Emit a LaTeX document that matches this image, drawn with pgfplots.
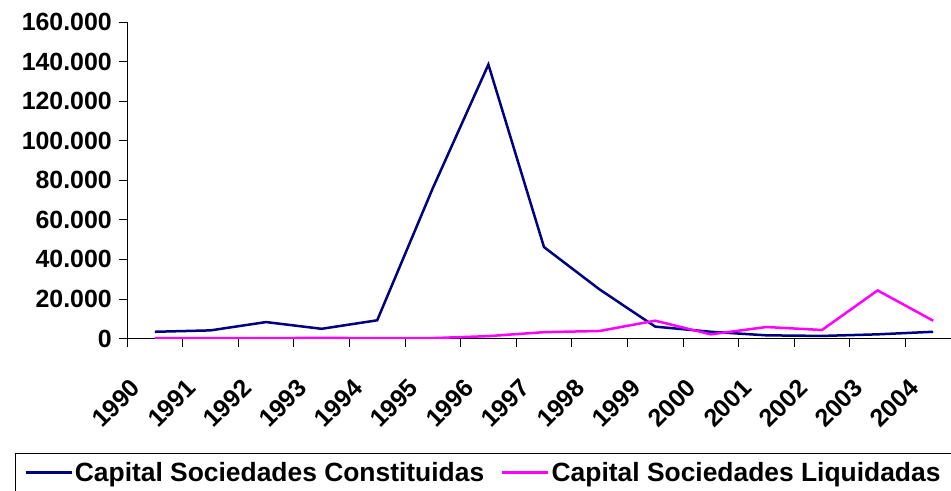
\documentclass[border=0pt]{standalone}
\usepackage{pgfplots}
\pgfplotsset{compat=1.18}
\usepackage{fontspec}
\setmainfont{Liberation Sans}
\definecolor{navyc}{RGB}{0,0,128}
\definecolor{magc}{RGB}{255,0,255}
\pgfplotstableread{
x const liq
0 3400 200
1 4100 200
2 8300 200
3 4900 300
4 9200 200
5 76000 200
6 138500 1200
7 46200 3200
8 24800 3800
9 6000 9000
10 3400 2100
11 1600 5800
12 1300 4300
13 2100 24300
14 3400 9000
}\datatable
\begin{document}
\begin{tikzpicture}
\begin{axis}[
  at={(127bp,152.5bp)}, anchor=south west,
  scale only axis, width=834bp, height=316.5bp,
  xmin=-0.5, xmax=14.5, ymin=0, ymax=160000,
  axis x line=bottom, axis y line=left,
  axis line style={-, black, line width=0.8bp},
  tick style={black, line width=0.8bp},
  tick align=outside, major tick length=8bp,
  xtick={-0.5,0.5,1.5,2.5,3.5,4.5,5.5,6.5,7.5,8.5,9.5,10.5,11.5,12.5,13.5,14.5},
  x tick label as interval,
  xticklabels={1990,1991,1992,1993,1994,1995,1996,1997,1998,1999,2000,2001,2002,2003,2004},
  ytick={0,20000,40000,60000,80000,100000,120000,140000,160000},
  scaled y ticks=false,
  /pgf/number format/.cd, fixed, 1000 sep={.}, assume math mode=true,
  /pgfplots/.cd,
  yticklabel style={font=\bfseries\fontsize{25}{30}\selectfont, inner sep=0pt, xshift=-7bp},
  xticklabel style={font=\bfseries\fontsize{25}{30}\selectfont, inner sep=0pt, xshift=-19bp, yshift=-37bp, rotate=45, anchor=east},
  legend style={at={(axis description cs:-0.1343,-0.3618)}, anchor=north west,
    draw=black, line width=0.8bp, inner xsep=9bp, inner ysep=7bp,
    font=\bfseries\fontsize{26.5}{30}\selectfont,
    /tikz/every even column/.append style={column sep=15bp}},
  legend columns=2,
  legend image code/.code={\draw[#1] (0bp,0bp) -- (46bp,0bp);},
]
\addplot[navyc, line width=2.5bp] table[x=x, y=const] {\datatable};
\addlegendentry{Capital Sociedades Constituidas}
\addplot[magc, line width=2.5bp] table[x=x, y=liq] {\datatable};
\addlegendentry{Capital Sociedades Liquidadas}
\end{axis}
\pgfresetboundingbox
\useasboundingbox (0bp,0bp) rectangle (951bp,491bp);
\end{tikzpicture}
\end{document}
